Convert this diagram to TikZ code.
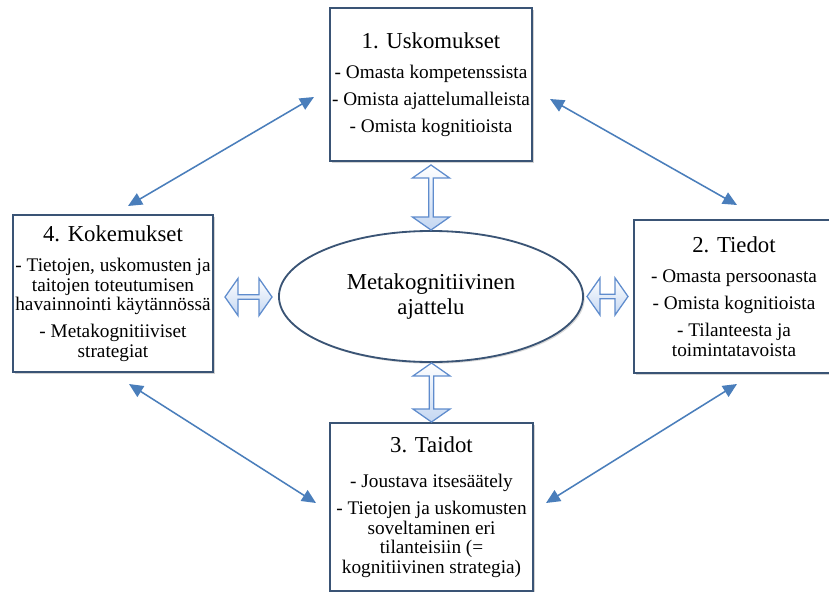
\documentclass[tikz,border=0pt]{standalone}
\usepackage{fontspec}
\setmainfont{Liberation Serif}
\usetikzlibrary{shapes,shapes.arrows,shapes.geometric,shadows,arrows.meta}

\definecolor{boxline}{RGB}{58,84,117}
\definecolor{linkblue}{RGB}{74,126,187}
\definecolor{blockline}{RGB}{95,140,205}
\definecolor{blockfill}{RGB}{196,215,242}
\newcommand{\otsikko}[1]{{\fontsize{16.2}{18}\selectfont #1}}

\tikzset{
  infobox/.style={draw=boxline, line width=1.4pt, fill=white, align=center,
    inner sep=0pt, drop shadow={opacity=0.35, shadow xshift=1.5pt, shadow yshift=-1.5pt},
    font=\fontsize{13.7}{13.9}\selectfont},
  centre/.style={ellipse, draw=boxline, line width=1.3pt, fill=white, align=center,
    minimum width=7.6cm, minimum height=3.275cm, inner sep=0pt,
    drop shadow={opacity=0.3, shadow xshift=1.2pt, shadow yshift=-1.2pt},
    font=\fontsize{16.2}{17.8}\selectfont},
  blockarrow/.style={double arrow, draw=blockline, line width=0.9pt,
    top color=white, bottom color=blockfill, inner sep=0pt,
    minimum width=0.925cm, double arrow head extend=0.12cm, double arrow tip angle=110},
  linkarrow/.style={draw=linkblue, line width=1.1pt, >={Triangle[length=10pt,width=9pt]}, <->}
}

\begin{document}
\begin{tikzpicture}[x=0.025cm, y=-0.025cm]
    \useasboundingbox (0,0) rectangle (829,592);
    \clip (0,0) rectangle (829,592);

    % boxes round the centre
    \node[infobox, minimum width=5.05cm, minimum height=3.825cm] (usko) at (431,84.5)
        {\otsikko{1. Uskomukset}\\[7.5pt] - Omasta kompetenssista\\[5.3pt] - Omista ajattelumalleista\\[5.3pt] - Omista kognitioista};
    \node[infobox, minimum width=5.0cm, minimum height=3.825cm] (tiedot) at (734,296.5)
        {\otsikko{2. Tiedot}\\[7.5pt] - Omasta persoonasta\\[5.3pt] - Omista kognitioista\\[5.3pt] - Tilanteesta ja\\ toimintatavoista};
    \node[infobox, minimum width=5.075cm, minimum height=4.2cm] (taidot) at (431.5,507)
        {\otsikko{3. Taidot}\\[11pt] - Joustava itsesäätely\\[5.3pt] - Tietojen ja uskomusten\\ soveltaminen eri\\ tilanteisiin (=\\ kognitiivinen strategia)};
    \node[infobox, minimum width=5.0cm, minimum height=3.925cm] (koke) at (113,293.5)
        {\otsikko{4. Kokemukset}\\[7.5pt] - Tietojen, uskomusten ja\\ taitojen toteutumisen\\ havainnointi käytännössä\\[5.3pt] - Metakognitiiviset\\ strategiat};

    \node[centre] (meta) at (431,296.5) {Metakognitiivinen\\ ajattelu};

    % block arrows between centre and boxes
    \node[blockarrow, rotate=90, minimum height=1.625cm] (nuoliU) at (431,197.5) {};
    \node[blockarrow, rotate=90, minimum height=1.475cm] (nuoliT) at (431.5,392.5) {};
    \node[blockarrow, minimum height=1.175cm] (nuoliK) at (248.5,297) {};
    \node[blockarrow, minimum height=1.025cm] (nuoliD) at (607.5,296.5) {};

    % thin arrows round the outside
    \draw[linkarrow] ([shift={(-15,12.5)}]usko.west) -- ([shift={(15,-8)}]koke.north);
    \draw[linkarrow] ([shift={(17,14.5)}]usko.east) -- ([shift={(3,-14)}]tiedot.north);
    \draw[linkarrow] ([shift={(16,11)}]koke.south) -- ([shift={(-13,-4)}]taidot.west);
    \draw[linkarrow] ([shift={(3,10)}]tiedot.south) -- ([shift={(12,-4)}]taidot.east);
\end{tikzpicture}
\end{document}
